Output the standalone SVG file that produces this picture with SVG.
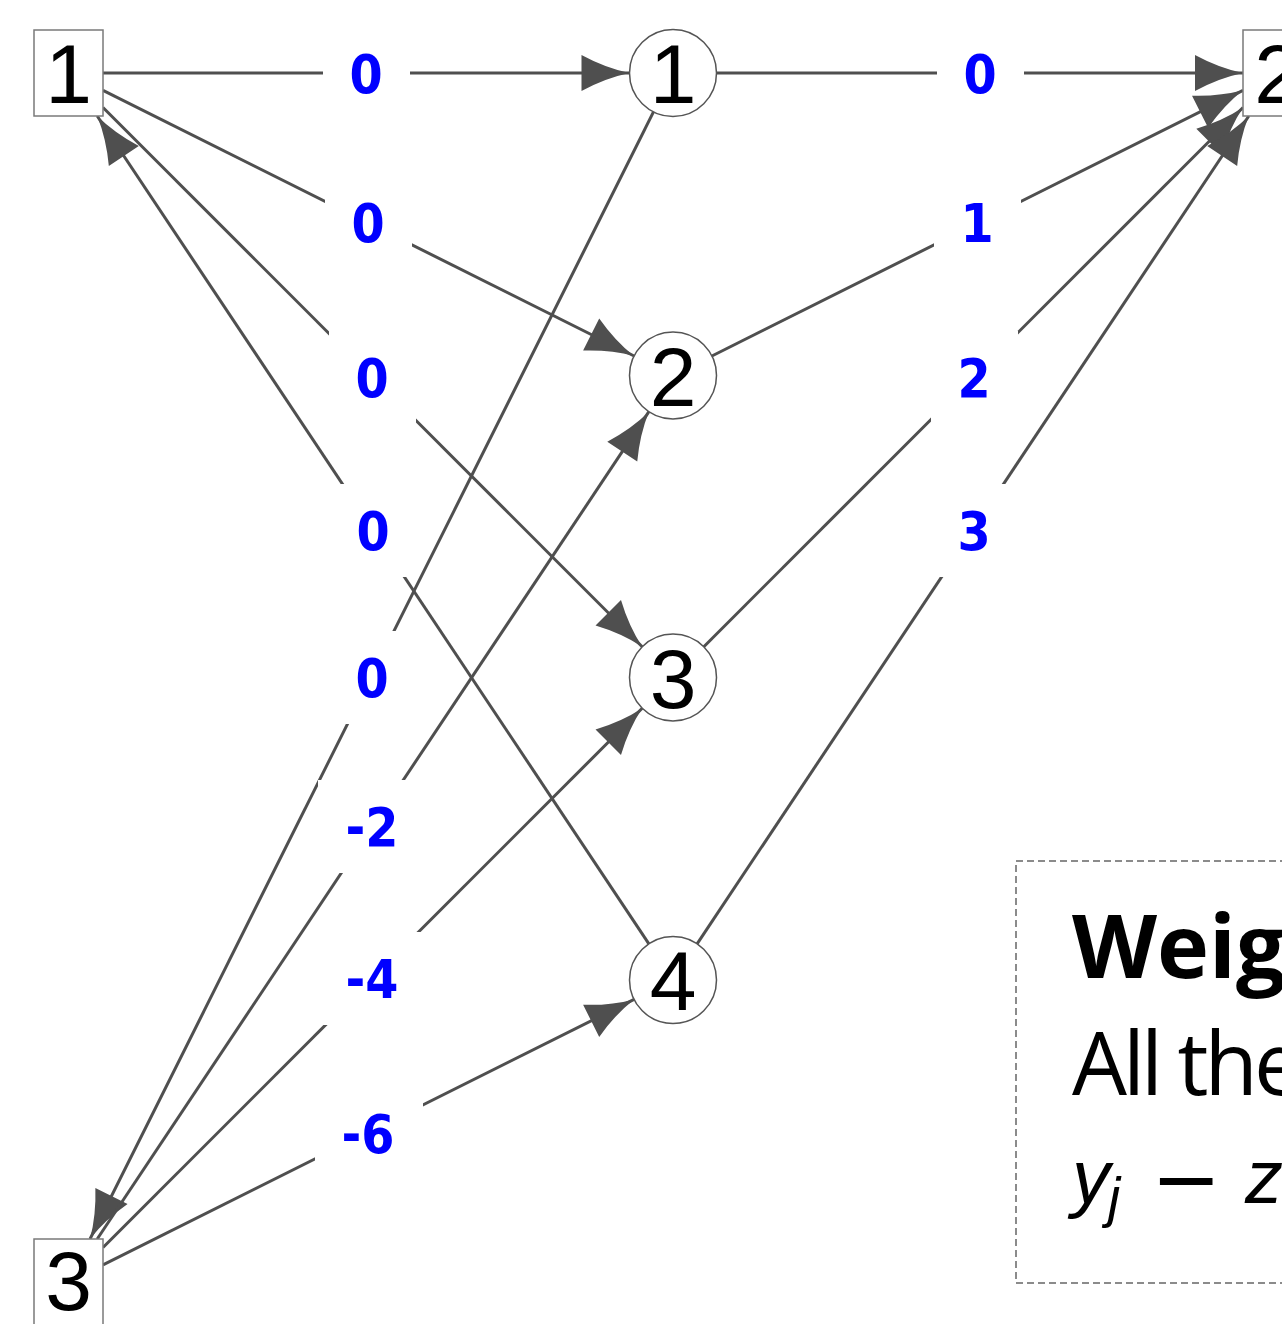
<svg xmlns="http://www.w3.org/2000/svg" width="1282" height="1324" viewBox="0 0 1282 1324">
<style>
.e{stroke:#4f4f4f;stroke-width:3;fill:none}
.ea{stroke:#4f4f4f;stroke-width:3;fill:none;marker-end:url(#ah)}
.box{fill:#fff;stroke:#7a7a7a;stroke-width:1.5}
.cir{fill:#fff;stroke:#555;stroke-width:1.5}
.nl{font-family:"Liberation Sans",Arial,sans-serif;font-size:84px;fill:#000;text-anchor:middle}
.lb{fill:#fff;stroke:none}
.lt{font-family:"DejaVu Sans Condensed","DejaVu Sans",sans-serif;font-weight:bold;font-size:53px;fill:#0000ff;text-anchor:middle}
</style>
<defs>
<marker id="ah" markerUnits="userSpaceOnUse" viewBox="-50 -20 52 40" markerWidth="52" markerHeight="40" refX="0" refY="0" orient="auto" overflow="visible">
<path d="M0,0 Q-24,-5 -48,-18 L-48,18 Q-24,5 0,0 Z" fill="#4f4f4f"/>
</marker>
</defs>
<rect width="1282" height="1324" fill="#fff"/>
<g id="legend">
<rect x="1016" y="861" width="700" height="422" fill="none" stroke="#666" stroke-width="1.5" stroke-dasharray="7 4"/>
<text x="1072" y="978" font-family="'Open Sans',sans-serif" font-weight="bold" font-size="88">Weig</text>
<text x="1072" y="1095" font-family="'Open Sans',sans-serif" font-size="87" letter-spacing="-4">All the</text>
<text x="1072" y="1203" font-family="'Liberation Sans',sans-serif" font-style="italic" font-size="76">y</text>
<text x="1108" y="1216" font-family="'Liberation Sans',sans-serif" font-style="italic" font-size="55">j</text>
<text x="1151" y="1208" font-family="'DejaVu Sans',sans-serif" font-size="84">−</text>
<text x="1245" y="1203" font-family="'Liberation Sans',sans-serif" font-style="italic" font-size="76">z</text>
</g>
<g id="connectors">
<line class="ea" x1="103" y1="73" x2="629.5" y2="73"/>
<line class="ea" x1="103" y1="90.3" x2="634.1" y2="356"/>
<line class="ea" x1="103" y1="107.5" x2="642.2" y2="646.7"/>
<line class="ea" x1="648.9" y1="943.8" x2="97.2" y2="116"/>
<line class="ea" x1="653.5" y1="111.9" x2="90" y2="1239"/>
<line class="ea" x1="97.2" y1="1239" x2="648.9" y2="411.7"/>
<line class="ea" x1="103" y1="1247.5" x2="642.2" y2="708.3"/>
<line class="ea" x1="103" y1="1264.8" x2="634.1" y2="999.4"/>
<line class="ea" x1="716.5" y1="73" x2="1243" y2="73"/>
<line class="ea" x1="711.9" y1="356" x2="1243" y2="90.3"/>
<line class="ea" x1="703.8" y1="646.7" x2="1243" y2="107.5"/>
<line class="ea" x1="697.1" y1="943.8" x2="1248.8" y2="116"/>
</g>
<g id="labels">
<rect class="lb" x="323" y="27" width="87" height="93"/><text class="lt" x="366" y="92.5">0</text>
<rect class="lb" x="325" y="176" width="87" height="93"/><text class="lt" x="368" y="241.5">0</text>
<rect class="lb" x="329" y="331" width="87" height="93"/><text class="lt" x="372" y="396.5">0</text>
<rect class="lb" x="330" y="484" width="87" height="93"/><text class="lt" x="373" y="549.5">0</text>
<rect class="lb" x="329" y="631" width="87" height="93"/><text class="lt" x="372" y="696.5">0</text>
<rect class="lb" x="318" y="780" width="108" height="93"/><text class="lt" x="372" y="845.5">-2</text>
<rect class="lb" x="318" y="932" width="108" height="93"/><text class="lt" x="372" y="997.5">-4</text>
<rect class="lb" x="315" y="1087" width="108" height="93"/><text class="lt" x="368" y="1152.5">-6</text>
<rect class="lb" x="937" y="27" width="87" height="93"/><text class="lt" x="980" y="92.5">0</text>
<rect class="lb" x="934" y="176" width="87" height="93"/><text class="lt" x="977" y="241.5">1</text>
<rect class="lb" x="931" y="331" width="87" height="93"/><text class="lt" x="974" y="396.5">2</text>
<rect class="lb" x="931" y="484" width="87" height="93"/><text class="lt" x="974" y="549.5">3</text>
</g>
<g id="node-b1"><rect class="box" x="34" y="30" width="69" height="86"/><text class="nl" x="68.5" y="103">1</text></g>
<g id="node-b2"><rect class="box" x="1243" y="30" width="69" height="86"/><text class="nl" x="1277.5" y="103">2</text></g>
<g id="node-b3"><rect class="box" x="34" y="1239" width="69" height="86"/><text class="nl" x="68.5" y="1310">3</text></g>
<g id="node-c1"><circle class="cir" cx="673" cy="73" r="43.5"/><text class="nl" x="673" y="103">1</text></g>
<g id="node-c2"><circle class="cir" cx="673" cy="375.5" r="43.5"/><text class="nl" x="673" y="405.5">2</text></g>
<g id="node-c3"><circle class="cir" cx="673" cy="677.5" r="43.5"/><text class="nl" x="673" y="707.5">3</text></g>
<g id="node-c4"><circle class="cir" cx="673" cy="980" r="43.5"/><text class="nl" x="673" y="1010">4</text></g>
</svg>
